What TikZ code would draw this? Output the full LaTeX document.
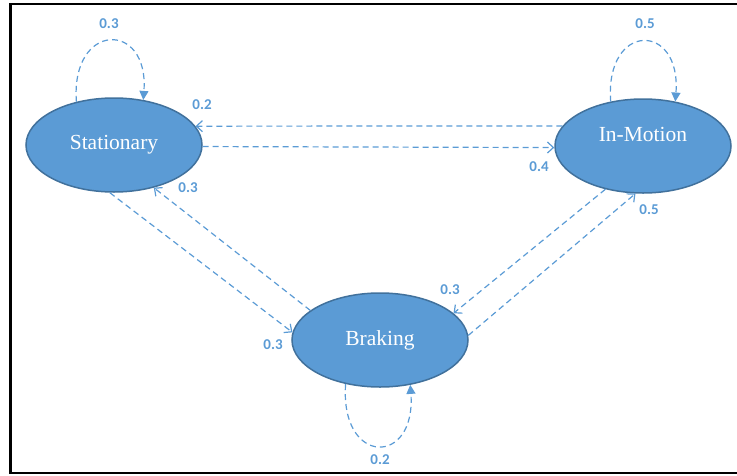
\documentclass[tikz,border=0pt]{standalone}
\usepackage{fontspec}
\setmainfont{Liberation Serif}
\newfontfamily\labelfont{Carlito}
\usetikzlibrary{shapes.geometric,arrows.meta}
\definecolor{statefill}{HTML}{5B9BD5}
\definecolor{stateedge}{HTML}{41719C}
\definecolor{linkblue}{HTML}{5B9BD5}
\definecolor{probblue}{HTML}{5B9BD5}
\begin{document}
\begin{tikzpicture}[x=1pt,y=-1pt,
  state/.style={ellipse, draw=stateedge, line width=1.5pt, fill=statefill,
    minimum width=176pt, minimum height=94pt, inner sep=0pt,
    text=white, font=\fontsize{21.5}{25}\selectfont},
  statetext/.style={text=white, font=\fontsize{21.5}{25}\selectfont, inner sep=0pt},
  link/.style={draw=linkblue, line width=1.2pt, dash pattern=on 6pt off 4pt,
    -{Straight Barb[length=6pt,width=11pt]}},
  selfloop/.style={draw=linkblue, line width=1.2pt, dash pattern=on 6pt off 4pt,
    -{Triangle[length=9pt,width=9pt]}},
  prob/.style={text=probblue, font=\labelfont\bfseries\fontsize{15}{18}\selectfont, inner sep=0pt}]
\useasboundingbox (0,0) rectangle (737,475);

% frame
\draw[line width=3pt] (10,474) -- (10,3);
\draw[line width=2.5pt] (9,4) -- (737,4);
\draw[line width=2pt] (9,473) -- (737,473);

% states
\node[state] (stat) at (114,145) {Stationary};
\node[state, label={[statetext, yshift=12pt]center:In-Motion}] (move) at (643,146) {};
\node[state] (brake) at (380,340) {Braking};

% self transitions
\draw[selfloop] (stat.131) .. controls +(-6,-80) and +(6,-80) .. (stat.57);
\draw[selfloop] (move.126) .. controls +(-6,-80) and +(6,-80) .. (move.54);
\draw[selfloop] (brake.-128) .. controls +(-6,82) and +(6,82) .. (brake.-56);

% transitions between states
\draw[link] (move.166.5) -- (stat.13.2);
\draw[link] (stat.-1) -- (move.181);
\draw[link] (stat.-95) -- (brake.175.5);
\draw[link] (brake.157.4) -- (stat.-47.8);
\draw[link] (move.-131) -- (brake.20.6);
\draw[link] (brake.3) -- (move.-99.5);

% probabilities
\node[prob] (pss) at (109,24) {0.3};
\node[prob] (psm) at (202,105) {0.2};
\node[prob] (pms) at (539,167) {0.4};
\node[prob] (pbs) at (188,188) {0.3};
\node[prob] (psb) at (273,345) {0.3};
\node[prob] (pmm) at (645,24) {0.5};
\node[prob] (pbm) at (649,210) {0.5};
\node[prob] (pmb) at (450,290) {0.3};
\node[prob] (pbb) at (380,460) {0.2};
\end{tikzpicture}
\end{document}
